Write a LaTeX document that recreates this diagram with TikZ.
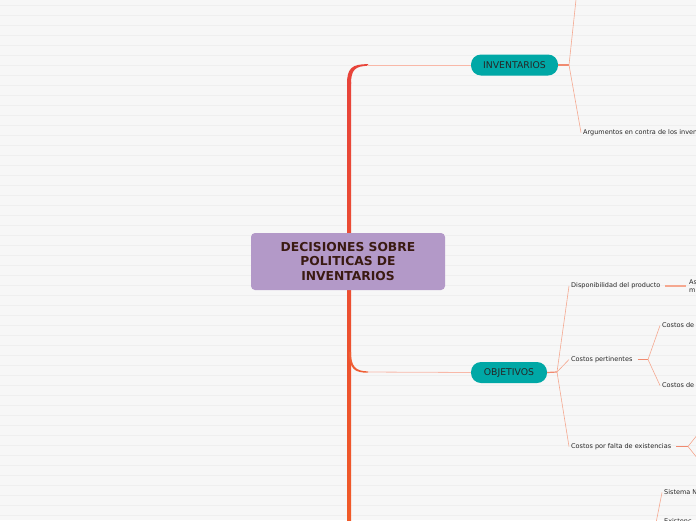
\documentclass[tikz,border=0pt]{standalone}
\usepackage{fontspec}
\setmainfont{DejaVu Sans}
\begin{document}
\begin{tikzpicture}[x=1pt,y=-1pt,
  rootbox/.style={fill=rootpurple,rounded corners=4pt,minimum width=194pt,minimum height=57pt,align=center,font=\bfseries\fontsize{12.3}{14.5}\selectfont,text=rootbrown,inner sep=0pt},
  mainbox/.style={fill=mainteal,rounded corners=10pt,minimum height=21pt,font=\fontsize{9.3}{10}\selectfont,text=black!85,inner sep=0pt},
  leaf/.style={anchor=west,font=\fontsize{6.5}{8.5}\selectfont,text=black!85,inner sep=2pt,align=left},
  twig/.style={draw=twigsalmon,line width=0.6pt},
  stub/.style={draw=stubsalmon,line width=1.2pt}]
\definecolor{bgcol}{HTML}{F7F7F7}
\definecolor{bgline}{HTML}{EFEFEF}
\definecolor{rootpurple}{HTML}{B399C8}
\definecolor{rootbrown}{HTML}{3A1A12}
\definecolor{mainteal}{HTML}{00A8A6}
\definecolor{trunkred}{HTML}{E8443A}
\definecolor{trunkorange}{HTML}{F05A28}
\definecolor{objcurve}{HTML}{EF5E34}
\definecolor{twigsalmon}{HTML}{F5A890}
\definecolor{stubsalmon}{HTML}{F08A70}
\definecolor{branchpale}{HTML}{F8B8A8}
\useasboundingbox (0,0) rectangle (696,520);
\clip (0,0) rectangle (696,520);
\fill[bgcol] (0,0) rectangle (696,520);
\foreach \k in {0,...,51} {\draw[bgline,line width=0.5pt] (0,5+10*\k) -- (696,5+10*\k);}
% trunk
\shade[top color=trunkred,bottom color=trunkorange] (347,82) rectangle (351,520);
% branch to INVENTARIOS
\fill[trunkred] (347,84) .. controls (347,68) and (352,64) .. (368,64.2) -- (368,65.8) .. controls (355,66) and (351,70) .. (351,84) -- cycle;
% branch to OBJETIVOS
\fill[objcurve] (351,352) .. controls (351,366) and (355,371.2) .. (368,371.4) -- (368,372.6) .. controls (355,373) and (349,369) .. (349,352) -- cycle;
% root
\node[rootbox] (root) at (348,261.5) {DECISIONES SOBRE\\POLITICAS DE\\INVENTARIOS};
% main nodes
\node[mainbox,minimum width=87pt] (inv) at (514.5,65) {INVENTARIOS};
\node[mainbox,minimum width=76pt] (obj) at (509,372.5) {OBJETIVOS};
\coordinate (invStart) at (367,65);
\coordinate (objStart) at (367,372);
\draw[branchpale,line width=0.8pt] (invStart) -- (inv.west);
\draw[branchpale,line width=0.8pt] (objStart) -- (obj.west);
% INVENTARIOS children
\coordinate (jInv) at (569,65);
\coordinate (invUp) at (576.5,-5);
\draw[stub] (inv.east) -- (jInv);
\node[leaf] (arg) at (581,132.5) {Argumentos en contra de los inventarios};
\draw[twig] (jInv) -- (invUp);
\draw[twig] (jInv) -- (arg.west);
% OBJETIVOS children
\coordinate (jObj) at (557,372);
\draw[stub] (obj.east) -- (jObj);
\node[leaf] (disp) at (569,286) {Disponibilidad del producto};
\node[leaf] (cpert) at (569,359.5) {Costos pertinentes};
\node[leaf] (cfalta) at (569,446.5) {Costos por falta de existencias};
\draw[twig] (jObj) -- (disp.west);
\draw[twig] (jObj) -- (cpert.west);
\draw[twig] (jObj) -- (cfalta.west);
% Disponibilidad child
\node[leaf,anchor=west] (asig) at (687,286) {As\\m};
\draw[stub,draw=twigsalmon] ([xshift=3pt]disp.east) -- ([xshift=-1pt]asig.west);
% Costos pertinentes children
\coordinate (jCp) at (648,359.5);
\draw[stub] ([xshift=3pt]cpert.east) -- (jCp);
\node[leaf] (cde1) at (660,325.5) {Costos de};
\node[leaf] (cde2) at (660,385.5) {Costos de};
\draw[twig] (jCp) -- (cde1.west);
\draw[twig] (jCp) -- (cde2.west);
% Costos por falta children
\coordinate (jCf) at (688,446.5);
\coordinate (cfUp) at (698,434);
\coordinate (cfDn) at (698,459);
\draw[stub] ([xshift=3pt]cfalta.east) -- (jCf);
\draw[twig] (jCf) -- (cfUp);
\draw[twig] (jCf) -- (cfDn);
% bottom branch
\node[leaf] (sist) at (662,492.5) {Sistema N};
\node[leaf] (exist) at (662,521.5) {Existenc};
\coordinate (botStart) at (655,528);
\draw[twig] (botStart) -- (sist.west);
\end{tikzpicture}
\end{document}
